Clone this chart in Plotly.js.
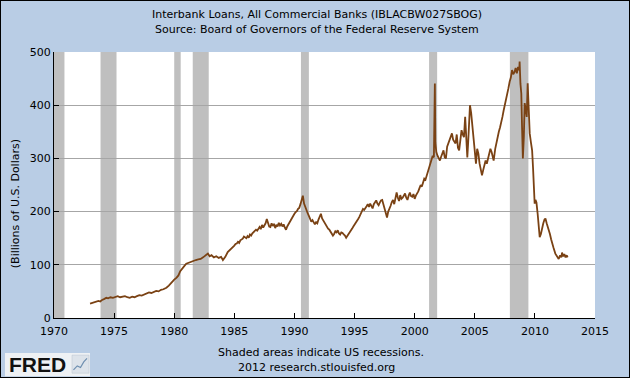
<!DOCTYPE html>
<html>
<head>
<meta charset="utf-8">
<script src="https://cdn.plot.ly/plotly-3.0.1.min.js"></script>
<style>
html,body{margin:0;padding:0;background:#B9CDE5;}
#wrap{width:630px;height:378px;box-sizing:border-box;border:1px solid #000;overflow:hidden;}
#chart{width:628px;height:376px;}
</style>
</head>
<body>
<div id="wrap"><div id="chart"></div></div>
<script>
// Weekly series approximated by hand-read points (decimal years, billions of $)
const years = [
1973.00,1973.15,1973.30,1973.50,1973.70,1973.85,1974.00,1974.20,1974.35,1974.50,1974.70,1974.90,
1975.10,1975.30,1975.50,1975.70,1975.90,1976.10,1976.30,1976.50,1976.70,1976.90,1977.10,1977.30,
1977.50,1977.70,1977.90,1978.10,1978.30,1978.50,1978.70,1978.90,1979.10,1979.35,1979.55,1979.80,
1980.00,1980.20,1980.35,1980.50,1980.70,1980.85,1981.00,1981.20,1981.40,1981.60,1981.80,1982.00,
1982.20,1982.40,1982.60,1982.80,1982.95,1983.10,1983.30,1983.50,1983.70,1983.90,1984.05,1984.25,
1984.45,1984.60,1984.80,
1985.0,1985.1,1985.2,1985.3,1985.4,1985.5,1985.6,1985.7,1985.8,1985.9,
1986.0,1986.1,1986.2,1986.3,1986.4,1986.5,1986.6,1986.7,1986.8,1986.9,
1987.0,1987.1,1987.2,1987.3,1987.4,1987.5,1987.6,1987.7,1987.8,1987.9,
1988.0,1988.1,1988.2,1988.3,1988.4,1988.5,1988.6,1988.7,1988.8,1988.9,
1989.0,1989.1,1989.2,1989.3,1989.4,1989.5,1989.6,1989.7,1989.8,1989.9,
1990.0,1990.1,1990.2,1990.3,1990.4,1990.5,1990.6,1990.7,1990.8,1990.9,
1991.0,1991.1,1991.2,1991.3,1991.4,1991.5,1991.6,1991.7,1991.8,1991.9,
1992.0,1992.1,1992.2,1992.3,1992.4,1992.5,1992.6,1992.7,1992.8,1992.9,
1993.0,1993.1,1993.2,1993.3,1993.4,1993.5,1993.6,1993.7,1993.8,1993.9,
1994.0,1994.1,1994.2,1994.3,1994.4,1994.5,1994.6,1994.7,1994.8,1994.9,
1995.0,1995.1,1995.2,1995.3,1995.4,1995.5,1995.6,1995.7,1995.8,1995.9,
1996.0,1996.1,1996.2,1996.3,1996.4,1996.5,1996.6,1996.7,1996.8,1996.9,
1997.0,1997.1,1997.2,1997.3,1997.4,1997.5,1997.6,1997.7,1997.8,1997.9,
1998.0,1998.1,1998.2,1998.3,1998.4,1998.5,1998.6,1998.7,1998.8,1998.9,
1999.0,1999.1,1999.2,1999.3,1999.4,1999.5,1999.6,1999.7,1999.8,1999.9,
2000.0,2000.1,2000.2,2000.3,2000.4,2000.5,2000.6,2000.7,2000.8,2000.9,
2001.0,2001.1,2001.2,2001.3,2001.4,2001.5,2001.6,2001.68,2001.72,2001.8,2001.9,
2002.0,2002.1,2002.2,2002.3,2002.4,2002.5,2002.6,2002.7,2002.8,2002.9,
2003.0,2003.1,2003.2,2003.3,2003.4,2003.5,2003.6,2003.7,2003.8,2003.9,
2004.0,2004.1,2004.2,2004.3,2004.38,2004.45,2004.52,2004.6,2004.7,2004.8,2004.9,
2005.0,2005.1,2005.2,2005.3,2005.4,2005.5,2005.6,2005.7,2005.8,2005.9,
2006.0,2006.1,2006.2,2006.3,2006.4,2006.5,2006.57,2006.7,2006.8,2006.9,
2007.0,2007.1,2007.2,2007.3,2007.4,2007.5,2007.6,2007.7,2007.8,2007.9,
2008.0,2008.1,2008.2,2008.3,2008.4,2008.5,2008.6,2008.7,2008.73,2008.8,2008.87,2008.93,
2009.0,2009.08,2009.15,2009.25,2009.32,2009.4,2009.48,2009.57,2009.67,2009.77,2009.85,2009.92,2009.98,
2010.05,2010.13,2010.23,2010.32,2010.4,2010.5,2010.6,2010.7,2010.8,2010.88,2010.98,
2011.07,2011.15,2011.25,2011.35,2011.43,2011.55,2011.7,2011.85,2011.98,
2012.1,2012.2,2012.26,2012.35,2012.45,2012.55,2012.65,2012.72
];
const loans = [
27,28,30,31,32,31,34,36,38,37,39,38,
40,41,39,40,41,39,38,40,39,41,43,42,
44,46,48,47,49,51,50,53,54,57,61,68,
72,76,80,88,95,98,102,104,106,107,109,110,
111,114,117,121,116,118,114,116,113,115,109,115,
124,127,131,
136,139,140,143,141,146,148,149,153,152,
150,154,151,157,155,159,161,163,166,164,
168,171,167,175,170,173,178,186,176,172,
171,178,173,177,169,175,172,179,174,177,
172,176,170,166,172,176,182,186,190,194,
196,199,201,205,207,214,220,230,215,208,
202,197,192,186,181,184,179,176,180,178,
185,190,196,187,183,179,176,172,168,166,
162,160,155,158,163,161,165,159,157,161,
160,157,155,151,154,158,162,165,168,172,
175,179,183,186,190,196,199,205,203,208,
210,214,209,215,211,206,214,218,221,215,
212,217,221,222,214,208,198,189,200,208,
211,218,222,214,225,236,226,220,231,224,
226,232,234,226,222,230,236,229,228,233,
224,230,233,238,244,250,247,254,262,260,
268,276,284,292,300,305,302,441,330,312,305,
300,296,303,309,315,302,300,322,328,334,
340,347,335,332,328,345,320,315,330,353,
345,340,378,320,302,330,360,400,385,359,335,
318,290,318,309,290,280,268,278,285,296,
290,298,305,318,312,305,296,318,330,338,
350,358,366,378,390,400,410,416,432,444,
452,466,458,462,470,460,472,466,482,440,422,360,
300,340,404,390,378,441,400,347,330,315,280,252,215,
222,217,196,175,152,158,170,178,185,187,178,
172,164,158,148,140,132,121,116,111,
118,114,123,116,120,114,118,114
];
// NBER recessions (decimal years)
const recStart = [1969.92, 1973.87, 1980.00, 1981.54, 1990.54, 2001.20, 2007.92];
const recEnd   = [1970.87, 1975.20, 1980.54, 1982.87, 1991.20, 2001.87, 2009.46];
const xTicks = [1970,1975,1980,1985,1990,1995,2000,2005,2010,2015];
const xTickText = xTicks.map(String);
const yTicks = [0,100,200,300,400,500];
const yGrid = [100,200,300,400];

const xMin = 1970, xMax = 2015;
const font = 'DejaVu Sans, Verdana, sans-serif';

const shapes = recStart.map((s, i) => ({
  type: 'rect', xref: 'x', yref: 'paper',
  x0: Math.max(s, xMin), x1: Math.min(recEnd[i], xMax), y0: 0, y1: 1,
  fillcolor: '#BFBFBF', line: {width: 0}, layer: 'below'
}));
// FRED logo box
shapes.push({type:'rect', xref:'paper', yref:'paper', x0:-0.0906, x1:0.0665, y0:-0.219, y1:-0.132,
  fillcolor:'#EEF1F4', line:{width:0}});
shapes.push({type:'rect', xref:'paper', yref:'paper', x0:0.0333, x1:0.0647, y0:-0.2075, y1:-0.1396,
  fillcolor:'#DDE3EA', line:{color:'#B8C2CC', width:0.5}});
shapes.push({type:'path', xref:'paper', yref:'paper',
  path:'M 0.036 -0.195 L 0.043 -0.180 L 0.049 -0.186 L 0.055 -0.165 L 0.061 -0.152',
  line:{color:'#6F8FB0', width:1.2}});

const trace = {
  x: years, y: loans, type: 'scatter', mode: 'lines',
  line: {color: '#7A4214', width: 1.8},
  hoverinfo: 'x+y'
};

const layout = {
  width: 628, height: 376,
  margin: {l: 53, r: 34, t: 51, b: 59},
  paper_bgcolor: '#B9CDE5', plot_bgcolor: '#FFFFFF',
  showlegend: false,
  font: {family: font, size: 11, color: '#000'},
  xaxis: {
    range: [xMin, xMax], tickvals: xTicks, ticktext: xTickText,
    showgrid: false, zeroline: false, showline: true, linecolor: '#000', linewidth: 1,
    ticks: 'inside', ticklen: 5, tickcolor: '#000', ticklabelstandoff: 3,
    tickfont: {family: font, size: 11, color: '#000'}
  },
  yaxis: {
    range: [0, 500], tickvals: yTicks,
    showgrid: false,
    minor: {tickvals: yGrid, showgrid: true, gridcolor: '#A6A6A6', gridwidth: 1, ticks: ''},
    zeroline: false, showline: true, linecolor: '#000', linewidth: 1,
    ticks: 'inside', ticklen: 5, tickcolor: '#000', tickfont: {family: font, size: 11, color: '#000'}
  },
  shapes: shapes,
  annotations: [
    {text: 'Interbank Loans, All Commercial Banks (IBLACBW027SBOG)', xref:'paper', yref:'paper',
     x: 0.486, y: 1.1396, showarrow:false, xanchor:'center', yanchor:'middle', font:{family:font,size:11}},
    {text: 'Source: Board of Governors of the Federal Reserve System', xref:'paper', yref:'paper',
     x: 0.486, y: 1.083, showarrow:false, xanchor:'center', yanchor:'middle', font:{family:font,size:11}},
    {text: '(Billions of U.S. Dollars)', xref:'paper', yref:'paper', textangle: -90,
     x: -0.072, y: 0.428, showarrow:false, xanchor:'center', yanchor:'middle', font:{family:font,size:11}},
    {text: 'Shaded areas indicate US recessions.', xref:'paper', yref:'paper',
     x: 0.4935, y: -0.128, showarrow:false, xanchor:'center', yanchor:'middle', font:{family:font,size:11}},
    {text: '2012 research.stlouisfed.org', xref:'paper', yref:'paper',
     x: 0.486, y: -0.185, showarrow:false, xanchor:'center', yanchor:'middle', font:{family:font,size:11}},
    {text: '<b>FRED</b>', xref:'paper', yref:'paper',
     x: -0.0296, y: -0.1736, showarrow:false, xanchor:'center', yanchor:'middle',
     font:{family:'Liberation Sans, Arial, sans-serif', size:21, color:'#111'}}
  ]
};

Plotly.newPlot('chart', [trace], layout, {displayModeBar: false, staticPlot: true});
</script>
</body>
</html>
